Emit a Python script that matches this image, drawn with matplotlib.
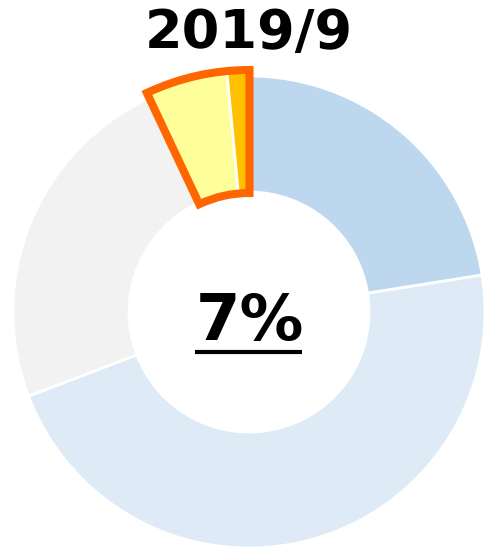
import matplotlib
matplotlib.use('Agg')
import matplotlib.pyplot as plt
from matplotlib.patches import Wedge

# share of each segment (%), clockwise from 12 o'clock
labels = ['A', 'B', 'C', 'D', 'E']
values = [22.5, 46.7, 23.8, 5.5, 1.5]
colors = ['#BDD7EE', '#DEEBF7', '#F2F2F2', '#FFFF99', '#FFC000']
highlight = [3, 4]
title = '2019/9'
center_label = '7%'

fig = plt.figure(figsize=(4.87, 5.54), dpi=100)
ax = fig.add_axes([0, 0, 1, 1])

cx, cy = 249, 242
r_out, ring = 236, 116

wedges, _ = ax.pie(values, colors=colors, startangle=90, counterclock=False,
                   radius=r_out, center=(cx, cy),
                   wedgeprops=dict(width=ring, edgecolor='white', linewidth=2))

# highlighted segments stick out a bit and get an orange border
r_hi, w_hi = 241, 123
t1 = min(wedges[i].theta1 for i in highlight)
t2 = max(wedges[i].theta2 for i in highlight)
for i in highlight:
    wedges[i].set_center((cx + 0.5, cy + 1))
    wedges[i].set_radius(r_hi)
    wedges[i].set_width(w_hi)
ax.add_patch(Wedge((cx + 0.5, cy + 1), r_hi, t1, t2, width=w_hi, fill=False,
                   edgecolor='#FF6600', linewidth=5.8, joinstyle='miter', zorder=5))

ax.set_xlim(0, 487)
ax.set_ylim(0, 554)
ax.axis('off')

ax.text(249, 554 - 33, title, ha='center', va='center', fontsize=39,
        fontweight='bold', color='black')
t = ax.text(249.5, 554 - 322, center_label, ha='center', va='center',
            fontsize=46, fontweight='bold', color='black')

fig.canvas.draw()
bb = t.get_window_extent().transformed(ax.transData.inverted())
ax.plot([bb.x0, bb.x1 - 2], [554 - 352] * 2, color='black', lw=3,
        solid_capstyle='butt')

fig.savefig('out.png', dpi=100)
